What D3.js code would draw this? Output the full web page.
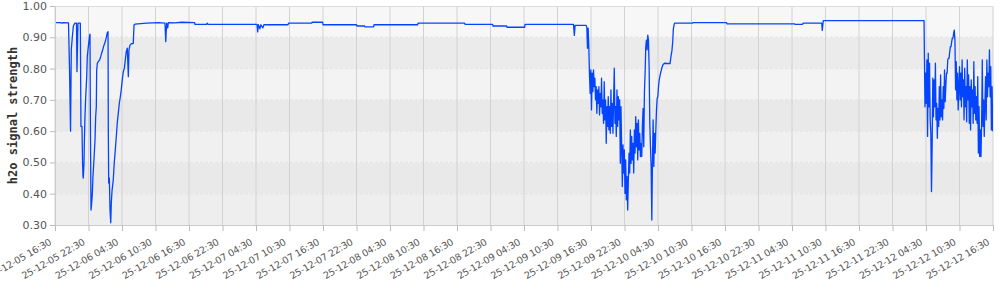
<!DOCTYPE html>
<html>
<head>
<meta charset="utf-8">
<script src="https://cdn.jsdelivr.net/npm/d3@7"></script>
<style>
  body { margin: 0; background: #fff; }
  svg text { font-family: "DejaVu Sans", Verdana, sans-serif; }
  .axis .domain { stroke: #ccc; }
  .axis .tick line { stroke: #bbb; }
  .axis .tick text { fill: #555; font-size: 11px; }
  .x-axis .tick text { font-size: 9.5px; letter-spacing: -0.2px; }
</style>
</head>
<body>
<svg id="chart" width="1000" height="290"></svg>
<script>
// first dips, evening of 12-05 to the morning of 12-06
const segA = [
  ["25-12-05 16:38", 0.947], ["25-12-05 17:24", 0.947], ["25-12-05 17:45", 0.945],
  ["25-12-05 17:56", 0.947], ["25-12-05 18:55", 0.946], ["25-12-05 19:06", 0.80],
  ["25-12-05 19:17", 0.60], ["25-12-05 19:25", 0.86], ["25-12-05 19:36", 0.90],
  ["25-12-05 19:47", 0.935], ["25-12-05 20:02", 0.945], ["25-12-05 20:21", 0.945],
  ["25-12-05 20:26", 0.79], ["25-12-05 20:37", 0.945], ["25-12-05 21:02", 0.945],
  ["25-12-05 21:09", 0.615], ["25-12-05 21:20", 0.615], ["25-12-05 21:26", 0.50],
  ["25-12-05 21:31", 0.455], ["25-12-05 21:34", 0.45], ["25-12-05 21:42", 0.50],
  ["25-12-05 21:45", 0.56], ["25-12-05 21:52", 0.646], ["25-12-05 22:00", 0.71],
  ["25-12-05 22:11", 0.774], ["25-12-05 22:17", 0.838], ["25-12-05 22:28", 0.87],
  ["25-12-05 22:43", 0.907], ["25-12-05 22:46", 0.91], ["25-12-05 22:51", 0.60],
  ["25-12-05 22:57", 0.348], ["25-12-05 23:04", 0.37], ["25-12-05 23:11", 0.40],
  ["25-12-05 23:18", 0.455], ["25-12-05 23:29", 0.51], ["25-12-05 23:40", 0.572],
  ["25-12-05 23:47", 0.646], ["25-12-05 23:54", 0.678], ["25-12-05 23:58", 0.795],
  ["25-12-06 00:05", 0.817], ["25-12-06 00:15", 0.822], ["25-12-06 00:30", 0.828],
  ["25-12-06 00:41", 0.838], ["25-12-06 00:52", 0.85], ["25-12-06 01:03", 0.86],
  ["25-12-06 01:13", 0.872], ["25-12-06 01:24", 0.88], ["25-12-06 01:38", 0.895],
  ["25-12-06 01:52", 0.915], ["25-12-06 02:00", 0.918], ["25-12-06 02:03", 0.60],
  ["25-12-06 02:07", 0.434], ["25-12-06 02:14", 0.45], ["25-12-06 02:21", 0.35],
  ["25-12-06 02:29", 0.307], ["25-12-06 02:35", 0.37], ["25-12-06 02:43", 0.41],
  ["25-12-06 02:56", 0.444], ["25-12-06 03:07", 0.50], ["25-12-06 03:18", 0.54],
  ["25-12-06 03:29", 0.583], ["25-12-06 03:39", 0.625], ["25-12-06 03:50", 0.657],
  ["25-12-06 04:01", 0.689], ["25-12-06 04:12", 0.71], ["25-12-06 04:22", 0.732],
  ["25-12-06 04:33", 0.764], ["25-12-06 04:44", 0.79], ["25-12-06 04:55", 0.80],
  ["25-12-06 05:05", 0.827], ["25-12-06 05:16", 0.854], ["25-12-06 05:27", 0.865],
  ["25-12-06 05:38", 0.774], ["25-12-06 05:45", 0.86], ["25-12-06 05:56", 0.875],
  ["25-12-06 06:14", 0.88], ["25-12-06 06:31", 0.88], ["25-12-06 06:39", 0.939],
  ["25-12-06 06:50", 0.942], ["25-12-06 08:55", 0.945], ["25-12-06 11:00", 0.947],
  ["25-12-06 12:12", 0.945], ["25-12-06 12:20", 0.886], ["25-12-06 12:30", 0.945],
  ["25-12-06 12:41", 0.93], ["25-12-06 12:48", 0.947]
];

// mostly flat stretch up to the afternoon of 12-09
const segB = [
  ["25-12-06 14:00", 0.946], ["25-12-06 15:10", 0.948], ["25-12-06 17:30", 0.947],
  ["25-12-06 17:34", 0.9415], ["25-12-06 19:40", 0.9415], ["25-12-06 19:45", 0.945],
  ["25-12-06 19:55", 0.9415], ["25-12-07 04:41", 0.9415], ["25-12-07 04:48", 0.917],
  ["25-12-07 04:56", 0.94], ["25-12-07 05:12", 0.927], ["25-12-07 05:22", 0.94],
  ["25-12-07 05:44", 0.93], ["25-12-07 05:55", 0.94], ["25-12-07 10:14", 0.940],
  ["25-12-07 10:20", 0.945], ["25-12-07 14:28", 0.945], ["25-12-07 14:32", 0.948],
  ["25-12-07 16:26", 0.948], ["25-12-07 16:30", 0.940], ["25-12-07 22:31", 0.940],
  ["25-12-07 22:35", 0.936], ["25-12-07 23:57", 0.936], ["25-12-08 00:01", 0.933],
  ["25-12-08 01:34", 0.933], ["25-12-08 01:38", 0.940], ["25-12-08 09:27", 0.940],
  ["25-12-08 09:31", 0.945], ["25-12-08 17:52", 0.945], ["25-12-08 17:56", 0.9415],
  ["25-12-08 22:53", 0.9415], ["25-12-08 22:57", 0.936], ["25-12-09 01:23", 0.936],
  ["25-12-09 01:27", 0.932], ["25-12-09 04:37", 0.932], ["25-12-09 04:41", 0.9415],
  ["25-12-09 13:22", 0.9415], ["25-12-09 13:31", 0.906], ["25-12-09 13:39", 0.938],
  ["25-12-09 15:38", 0.938]
];

// noisy night 12-09 / 12-10, one reading every 7.2 minutes
const segCStart = "25-12-09 15:45";
const segCStep = 7.2;
const segC = [
  0.932, 0.865, 0.929, 0.87, 0.78, 0.72, 0.796, 0.668, 0.785, 0.726,
  0.796, 0.742, 0.769, 0.70, 0.742, 0.657, 0.732, 0.689, 0.742, 0.652,
  0.721, 0.678, 0.769, 0.657, 0.70, 0.625, 0.758, 0.636, 0.70, 0.561,
  0.678, 0.615, 0.71, 0.604, 0.678, 0.593, 0.732, 0.615, 0.689, 0.593,
  0.70, 0.801, 0.625, 0.678, 0.583, 0.732, 0.615, 0.71, 0.636, 0.70,
  0.497, 0.678, 0.55, 0.423, 0.556, 0.466, 0.54, 0.401, 0.508, 0.38,
  0.455, 0.348, 0.444, 0.53, 0.466, 0.604, 0.497, 0.583, 0.508, 0.561,
  0.466, 0.604, 0.53, 0.646, 0.55, 0.625, 0.508, 0.636, 0.54, 0.593,
  0.519, 0.561, 0.519, 0.62, 0.673, 0.55, 0.726, 0.785, 0.87, 0.891,
  0.86, 0.907, 0.891, 0.806, 0.625, 0.55, 0.487, 0.316, 0.508, 0.636,
  0.487, 0.593, 0.53, 0.604, 0.668, 0.705, 0.71, 0.742, 0.763, 0.774,
  0.785, 0.793
];

// recovery on 12-10 and flat until 12-12 morning
const segD = [
  ["25-12-10 05:14", 0.805], ["25-12-10 05:25", 0.813], ["25-12-10 05:40", 0.817],
  ["25-12-10 06:39", 0.816], ["25-12-10 06:50", 0.84], ["25-12-10 07:00", 0.858],
  ["25-12-10 07:08", 0.885], ["25-12-10 07:15", 0.927], ["25-12-10 07:25", 0.943],
  ["25-12-10 07:30", 0.945], ["25-12-10 10:42", 0.945], ["25-12-10 10:46", 0.947],
  ["25-12-10 16:47", 0.947], ["25-12-10 16:51", 0.943], ["25-12-11 04:58", 0.943],
  ["25-12-11 05:02", 0.9415], ["25-12-11 06:24", 0.9415], ["25-12-11 06:28", 0.945],
  ["25-12-11 09:50", 0.945], ["25-12-11 09:55", 0.922], ["25-12-11 10:06", 0.953],
  ["25-12-12 04:09", 0.953]
];

// noisy 12-12, one reading every 7 minutes
const segEStart = "25-12-12 04:12";
const segEStep = 7;
const segE = [
  0.870, 0.678, 0.785, 0.689, 0.828, 0.583, 0.849, 0.678, 0.817, 0.636,
  0.593, 0.407, 0.55, 0.769, 0.646, 0.764, 0.678, 0.817, 0.636, 0.689,
  0.577, 0.673, 0.615, 0.742, 0.636, 0.78, 0.646, 0.70, 0.636, 0.742,
  0.673, 0.796, 0.694, 0.742, 0.785, 0.785, 0.828, 0.833, 0.833, 0.854,
  0.870, 0.870, 0.886, 0.897, 0.897, 0.913, 0.923, 0.891, 0.732, 0.822,
  0.70, 0.785, 0.668, 0.742, 0.806, 0.70, 0.785, 0.678, 0.828, 0.71,
  0.764, 0.636, 0.801, 0.678, 0.742, 0.63, 0.828, 0.70, 0.78, 0.625,
  0.742, 0.604, 0.764, 0.678, 0.732, 0.625, 0.822, 0.657, 0.742, 0.636,
  0.71, 0.625, 0.774, 0.53, 0.678, 0.519, 0.604, 0.519, 0.636, 0.828,
  0.615, 0.70, 0.583, 0.689, 0.774, 0.636, 0.828, 0.71, 0.785, 0.742,
  0.86, 0.71, 0.806, 0.604, 0.742, 0.60
];

const yTicks = [0.3, 0.4, 0.5, 0.6, 0.7, 0.8, 0.9, 1.0];
const xStart = "25-12-05 16:30";
const xEnd = "25-12-12 16:30";
const xTickHours = 6;
const yLabel = "h2o signal strength";

const parse = d3.timeParse("%y-%m-%d %H:%M");
const fmt = d3.timeFormat("%y-%m-%d %H:%M");

const pairs = (arr) => arr.map(d => ({ t: parse(d[0]), v: d[1] }));
const sampled = (start, stepMin, vals) => {
  const t0 = parse(start);
  return vals.map((v, i) => ({ t: new Date(t0.getTime() + i * stepMin * 60000), v: v }));
};

const data = [].concat(
  pairs(segA), pairs(segB),
  sampled(segCStart, segCStep, segC),
  pairs(segD),
  sampled(segEStart, segEStep, segE)
);

const padLeft = 55, padRight = 993, padTop = 6, padBottom = 225;
const svg = d3.select('#chart');

const x = d3.scaleTime()
            .domain([parse(xStart), parse(xEnd)])
            .range([padLeft, padRight]);
const y = d3.scaleLinear()
            .domain([0.3, 1.0])
            .range([padBottom, padTop]);

const nTicks = Math.round((parse(xEnd) - parse(xStart)) / (xTickHours * 3600000));
const xTicks = d3.range(nTicks + 1).map(i => d3.timeHour.offset(parse(xStart), i * xTickHours));

// alternating background bands, bottom to top
const bandColors = ['#eeeeee', '#e9e9e9', '#f0f0f0', '#e9e9e9', '#f3f3f3', '#ebebeb', '#f7f7f7'];
svg.append('g')
   .selectAll('rect')
   .data(yTicks.slice(0, -1))
   .enter()
   .append('rect')
   .attr('x', padLeft)
   .attr('width', padRight - padLeft)
   .attr('y', (d, i) => y(yTicks[i + 1]))
   .attr('height', (d, i) => y(d) - y(yTicks[i + 1]))
   .attr('fill', (d, i) => bandColors[i]);

// horizontal grid
svg.append('g')
   .selectAll('line')
   .data(yTicks.slice(1, -1))
   .enter()
   .append('line')
   .attr('x1', padLeft).attr('x2', padRight)
   .attr('y1', d => y(d)).attr('y2', d => y(d))
   .attr('stroke', '#e2e2e2')
   .attr('stroke-dasharray', '3,2');

// vertical grid
svg.append('g')
   .selectAll('line')
   .data(xTicks)
   .enter()
   .append('line')
   .attr('x1', d => x(d)).attr('x2', d => x(d))
   .attr('y1', padTop).attr('y2', padBottom)
   .attr('stroke', '#d2d2d2');

svg.append('line')
   .attr('x1', padLeft).attr('x2', padRight)
   .attr('y1', padTop + 0.5).attr('y2', padTop + 0.5)
   .attr('stroke', '#dddddd');

svg.append('clipPath')
   .attr('id', 'plot-clip')
   .append('rect')
   .attr('x', padLeft).attr('y', padTop)
   .attr('width', padRight - padLeft).attr('height', padBottom - padTop);

const line = d3.line()
               .x(d => x(d.t))
               .y(d => y(d.v));

svg.append('path')
   .datum(data)
   .attr('clip-path', 'url(#plot-clip)')
   .attr('d', line)
   .attr('fill', 'none')
   .attr('stroke', '#0544ff')
   .attr('stroke-width', 1.3)
   .attr('stroke-linejoin', 'round');

const xAxis = d3.axisBottom(x).tickValues(xTicks).tickFormat(fmt).tickSize(6).tickSizeOuter(0);
const yAxis = d3.axisLeft(y).tickValues(yTicks).tickFormat(d3.format('.2f')).tickSize(5).tickSizeOuter(0);

const gx = svg.append('g')
              .attr('class', 'axis x-axis')
              .attr('transform', 'translate(0,' + padBottom + ')')
              .call(xAxis);
gx.selectAll('.tick text')
  .attr('y', 0).attr('dy', 0).attr('x', 0)
  .attr('text-anchor', 'end')
  .attr('transform', 'translate(-3.5,19) rotate(-30)');

svg.append('g')
   .attr('class', 'axis')
   .attr('transform', 'translate(' + padLeft + ',0)')
   .call(yAxis);

svg.append('text')
   .text(yLabel)
   .attr('transform', 'translate(17,' + ((padTop + padBottom) / 2) + ') rotate(-90)')
   .attr('text-anchor', 'middle')
   .style('font-family', '"DejaVu Sans Mono", monospace')
   .style('font-weight', 'bold')
   .style('font-size', '12px')
   .style('fill', '#333');
</script>
</body>
</html>
